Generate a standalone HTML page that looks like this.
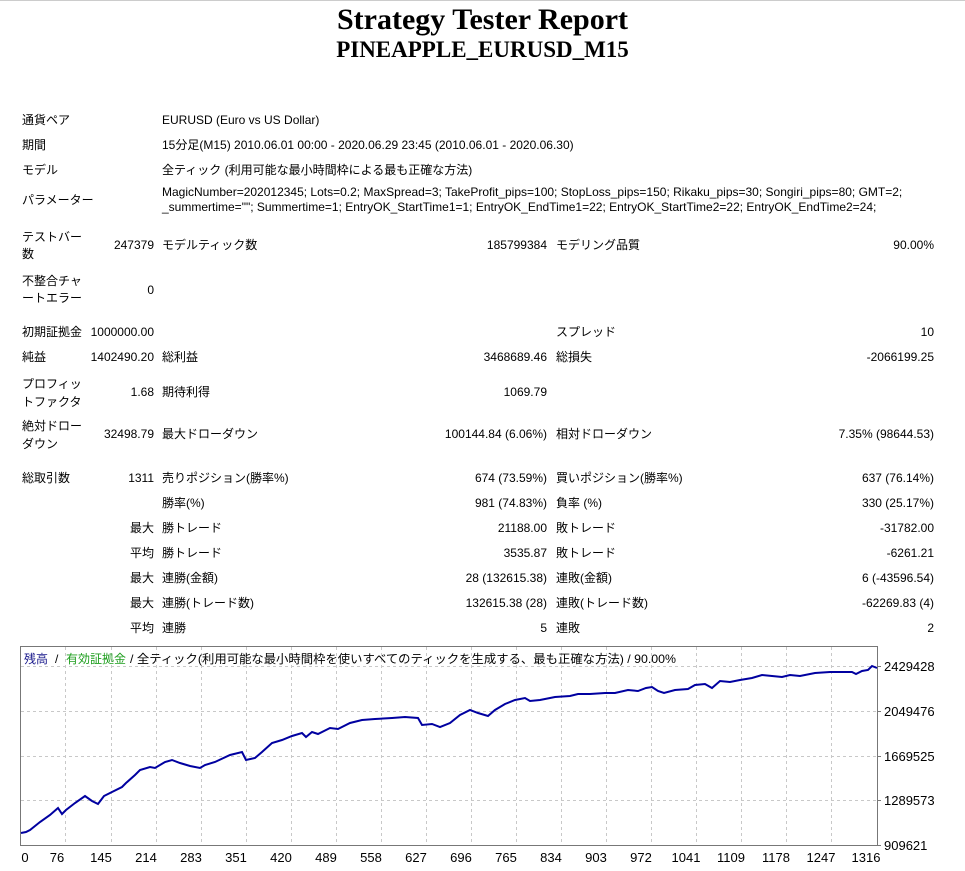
<!DOCTYPE html>
<html><head><meta charset="utf-8"><style>
body{margin:0;width:965px;height:871px;background:#fff;position:relative;overflow:hidden;font-family:"Liberation Sans","Noto Sans CJK JP",sans-serif;font-size:12px;color:#000}
.t{position:absolute;white-space:nowrap;line-height:16px}
.r{text-align:right}
h1,h2{position:absolute;left:0;width:965px;text-align:center;margin:0;font-family:"Liberation Serif",serif;font-weight:bold}
</style></head><body>
<div style="position:absolute;left:0;top:0;width:965px;height:1px;background:#ccc"></div>
<h1 style="top:3px;font-size:30px;line-height:34px">Strategy Tester Report</h1>
<h2 style="top:36px;font-size:23px;line-height:28px">PINEAPPLE_EURUSD_M15</h2>

<div class="t" style="left:22px;top:112px">通貨ペア</div>
<div class="t" style="left:162px;top:112px">EURUSD (Euro vs US Dollar)</div>
<div class="t" style="left:22px;top:137px">期間</div>
<div class="t" style="left:162px;top:137px">15分足(M15) 2010.06.01 00:00 - 2020.06.29 23:45 (2010.06.01 - 2020.06.30)</div>
<div class="t" style="left:22px;top:162px">モデル</div>
<div class="t" style="left:162px;top:162px">全ティック (利用可能な最小時間枠による最も正確な方法)</div>
<div class="t" style="left:22px;top:192px">パラメーター</div>
<div class="t" style="left:162px;top:185px;line-height:15px">MagicNumber=202012345; Lots=0.2; MaxSpread=3; TakeProfit_pips=100; StopLoss_pips=150; Rikaku_pips=30; Songiri_pips=80; GMT=2;<br>_summertime=""; Summertime=1; EntryOK_StartTime1=1; EntryOK_EndTime1=22; EntryOK_StartTime2=22; EntryOK_EndTime2=24;</div>

<div class="t" style="left:22px;top:229px;line-height:17px">テストバー<br>数</div>
<div class="t r" style="left:60px;width:94px;top:237px">247379</div>
<div class="t" style="left:162px;top:237px">モデルティック数</div>
<div class="t r" style="left:400px;width:147px;top:237px">185799384</div>
<div class="t" style="left:556px;top:237px">モデリング品質</div>
<div class="t r" style="left:780px;width:154px;top:237px">90.00%</div>

<div class="t" style="left:22px;top:273px;line-height:17px">不整合チャ<br>ートエラー</div>
<div class="t r" style="left:60px;width:94px;top:282px">0</div>

<div class="t" style="left:22px;top:324px">初期証拠金</div>
<div class="t r" style="left:60px;width:94px;top:324px">1000000.00</div>
<div class="t" style="left:556px;top:324px">スプレッド</div>
<div class="t r" style="left:780px;width:154px;top:324px">10</div>

<div class="t" style="left:22px;top:349px">純益</div>
<div class="t r" style="left:60px;width:94px;top:349px">1402490.20</div>
<div class="t" style="left:162px;top:349px">総利益</div>
<div class="t r" style="left:400px;width:147px;top:349px">3468689.46</div>
<div class="t" style="left:556px;top:349px">総損失</div>
<div class="t r" style="left:780px;width:154px;top:349px">-2066199.25</div>

<div class="t" style="left:22px;top:375px;line-height:18px">プロフィッ<br>トファクタ</div>
<div class="t r" style="left:60px;width:94px;top:384px">1.68</div>
<div class="t" style="left:162px;top:384px">期待利得</div>
<div class="t r" style="left:400px;width:147px;top:384px">1069.79</div>

<div class="t" style="left:22px;top:417px;line-height:18px">絶対ドロー<br>ダウン</div>
<div class="t r" style="left:60px;width:94px;top:426px">32498.79</div>
<div class="t" style="left:162px;top:426px">最大ドローダウン</div>
<div class="t r" style="left:400px;width:147px;top:426px">100144.84 (6.06%)</div>
<div class="t" style="left:556px;top:426px">相対ドローダウン</div>
<div class="t r" style="left:780px;width:154px;top:426px">7.35% (98644.53)</div>

<div class="t" style="left:22px;top:470px">総取引数</div>
<div class="t r" style="left:60px;width:94px;top:470px">1311</div>
<div class="t" style="left:162px;top:470px">売りポジション(勝率%)</div>
<div class="t r" style="left:400px;width:147px;top:470px">674 (73.59%)</div>
<div class="t" style="left:556px;top:470px">買いポジション(勝率%)</div>
<div class="t r" style="left:780px;width:154px;top:470px">637 (76.14%)</div>

<div class="t" style="left:162px;top:495px">勝率(%)</div>
<div class="t r" style="left:400px;width:147px;top:495px">981 (74.83%)</div>
<div class="t" style="left:556px;top:495px">負率 (%)</div>
<div class="t r" style="left:780px;width:154px;top:495px">330 (25.17%)</div>

<div class="t r" style="left:60px;width:94px;top:520px">最大</div>
<div class="t" style="left:162px;top:520px">勝トレード</div>
<div class="t r" style="left:400px;width:147px;top:520px">21188.00</div>
<div class="t" style="left:556px;top:520px">敗トレード</div>
<div class="t r" style="left:780px;width:154px;top:520px">-31782.00</div>

<div class="t r" style="left:60px;width:94px;top:545px">平均</div>
<div class="t" style="left:162px;top:545px">勝トレード</div>
<div class="t r" style="left:400px;width:147px;top:545px">3535.87</div>
<div class="t" style="left:556px;top:545px">敗トレード</div>
<div class="t r" style="left:780px;width:154px;top:545px">-6261.21</div>

<div class="t r" style="left:60px;width:94px;top:570px">最大</div>
<div class="t" style="left:162px;top:570px">連勝(金額)</div>
<div class="t r" style="left:400px;width:147px;top:570px">28 (132615.38)</div>
<div class="t" style="left:556px;top:570px">連敗(金額)</div>
<div class="t r" style="left:780px;width:154px;top:570px">6 (-43596.54)</div>

<div class="t r" style="left:60px;width:94px;top:595px">最大</div>
<div class="t" style="left:162px;top:595px">連勝(トレード数)</div>
<div class="t r" style="left:400px;width:147px;top:595px">132615.38 (28)</div>
<div class="t" style="left:556px;top:595px">連敗(トレード数)</div>
<div class="t r" style="left:780px;width:154px;top:595px">-62269.83 (4)</div>

<div class="t r" style="left:60px;width:94px;top:620px">平均</div>
<div class="t" style="left:162px;top:620px">連勝</div>
<div class="t r" style="left:400px;width:147px;top:620px">5</div>
<div class="t" style="left:556px;top:620px">連敗</div>
<div class="t r" style="left:780px;width:154px;top:620px">2</div>

<svg style="position:absolute;left:0;top:0" width="965" height="871" font-family="Liberation Sans, Noto Sans CJK JP, sans-serif" font-size="13">
<g stroke="#c8c8c8" stroke-dasharray="3,3" stroke-width="1">
<line x1="65.5" y1="647" x2="65.5" y2="845"/><line x1="111.5" y1="647" x2="111.5" y2="845"/><line x1="156.5" y1="647" x2="156.5" y2="845"/><line x1="201.5" y1="647" x2="201.5" y2="845"/><line x1="246.5" y1="647" x2="246.5" y2="845"/><line x1="291.5" y1="647" x2="291.5" y2="845"/><line x1="336.5" y1="647" x2="336.5" y2="845"/><line x1="381.5" y1="647" x2="381.5" y2="845"/><line x1="426.5" y1="647" x2="426.5" y2="845"/><line x1="471.5" y1="647" x2="471.5" y2="845"/><line x1="516.5" y1="647" x2="516.5" y2="845"/><line x1="561.5" y1="647" x2="561.5" y2="845"/><line x1="606.5" y1="647" x2="606.5" y2="845"/><line x1="651.5" y1="647" x2="651.5" y2="845"/><line x1="696.5" y1="647" x2="696.5" y2="845"/><line x1="741.5" y1="647" x2="741.5" y2="845"/><line x1="786.5" y1="647" x2="786.5" y2="845"/><line x1="831.5" y1="647" x2="831.5" y2="845"/>
<line x1="21" y1="666.5" x2="877" y2="666.5"/><line x1="21" y1="711.5" x2="877" y2="711.5"/><line x1="21" y1="756.5" x2="877" y2="756.5"/><line x1="21" y1="800.5" x2="877" y2="800.5"/>
</g>
<rect x="20.5" y="646.5" width="857" height="199" fill="none" stroke="#777" stroke-width="1"/>
<g stroke="#777"><line x1="877" y1="666.5" x2="881" y2="666.5"/><line x1="877" y1="711.5" x2="881" y2="711.5"/><line x1="877" y1="756.5" x2="881" y2="756.5"/><line x1="877" y1="800.5" x2="881" y2="800.5"/><line x1="877" y1="845.5" x2="881" y2="845.5"/></g>
<polyline fill="none" stroke="#0000a0" stroke-width="2" points="21,833 26,832 30,830 40,822 50,815 58,808 62,814 66,810 75,803 85,796 92,801 98,804 104,796 112,792 122,787 126,783 135,775 140,770 150,767 155,768 165,762 172,760 180,763 190,766 200,768 205,765 215,762 230,755 242,752 246,760 255,758 262,752 272,743 282,740 292,736 302,733 306,737 312,732 318,734 330,728 338,729 350,723 362,720 375,719 392,718 405,717 418,718 422,725 432,724 440,727 450,723 460,715 470,710 478,713 488,716 495,710 505,704 515,700 525,698 530,701 540,700 555,697 570,696 578,694 590,694 605,693 615,693 628,690 638,691 646,688 652,687 658,691 664,693 675,690 688,689 695,685 705,684 712,688 720,681 730,682 740,680 752,678 762,675 772,676 782,677 790,675 800,676 815,673 830,672 845,672 852,672 856,674 862,671 868,670 872,666 877,668"/>
<g font-size="12"><text x="24" y="663" fill="#1a1a8c">残高</text><text x="55" y="663" fill="#000">/</text><text x="66" y="663" fill="#1e9e1e">有効証拠金</text><text x="130" y="663" fill="#000" textLength="546" lengthAdjust="spacingAndGlyphs">/ 全ティック(利用可能な最小時間枠を使いすべてのティックを生成する、最も正確な方法) / 90.00%</text></g>
<g fill="#000" text-anchor="middle">
<text x="25" y="862">0</text><text x="57" y="862">76</text><text x="101" y="862">145</text><text x="146" y="862">214</text><text x="191" y="862">283</text><text x="236" y="862">351</text><text x="281" y="862">420</text><text x="326" y="862">489</text><text x="371" y="862">558</text><text x="416" y="862">627</text><text x="461" y="862">696</text><text x="506" y="862">765</text><text x="551" y="862">834</text><text x="596" y="862">903</text><text x="641" y="862">972</text><text x="686" y="862">1041</text><text x="731" y="862">1109</text><text x="776" y="862">1178</text><text x="821" y="862">1247</text><text x="866" y="862">1316</text>
</g>
<g fill="#000"><text x="884" y="671">2429428</text><text x="884" y="716">2049476</text><text x="884" y="761">1669525</text><text x="884" y="805">1289573</text><text x="884" y="850">909621</text></g>
</svg>
</body></html>
